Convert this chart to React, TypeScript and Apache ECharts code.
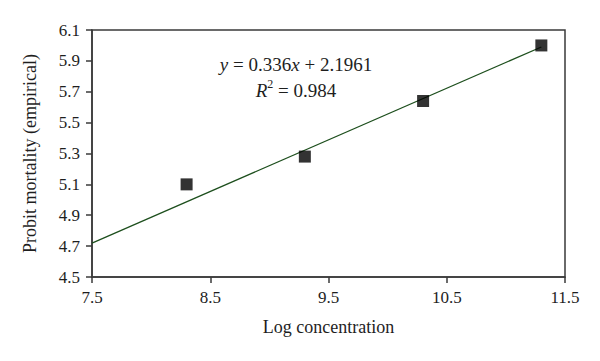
import React, { useEffect, useRef } from "react";
import * as echarts from "echarts";

const logConcentration = [8.3, 9.3, 10.3, 11.3];
const probitMortality = [5.1, 5.28, 5.64, 6.0];
const trendX = [7.5, 11.3];
const trendY = [4.72, 5.99];
const equationText = "{i|y} = 0.336{i|x} + 2.1961";
const r2Text = "{i|R}{s|2} = 0.984";

const FONT = "Liberation Serif";
const TEXT = "#1e1e1e";

export default function App() {
  const ref = useRef<HTMLDivElement>(null);
  useEffect(() => {
    document.body.style.margin = "0";
    if (!ref.current) return;
    const chart = echarts.init(ref.current, undefined, { renderer: "svg" });
    chart.setOption({
      animation: false,
      backgroundColor: "#ffffff",
      textStyle: { fontFamily: FONT },
      grid: {
        left: 92,
        right: 35,
        top: 30,
        bottom: 84,
        show: true,
        borderColor: "#3a3a3a",
        borderWidth: 1.5,
        containLabel: false,
      },
      xAxis: {
        type: "value",
        min: 7.5,
        max: 11.5,
        interval: 1,
        name: "Log concentration",
        nameLocation: "middle",
        nameGap: 41,
        nameTextStyle: { fontFamily: FONT, fontSize: 18, color: TEXT },
        axisLine: { show: true, lineStyle: { color: "#3a3a3a", width: 1.5 } },
        axisTick: { show: true, length: 6, lineStyle: { color: "#3a3a3a", width: 1.5 } },
        axisLabel: {
          fontFamily: FONT,
          fontSize: 17,
          color: TEXT,
          margin: 12,
          formatter: (v: number) => v.toFixed(1),
        },
        splitLine: { show: false },
      },
      yAxis: {
        type: "value",
        min: 4.5,
        max: 6.1,
        interval: 0.2,
        name: "Probit mortality (empirical)",
        nameLocation: "middle",
        nameGap: 53,
        nameTextStyle: { fontFamily: FONT, fontSize: 18, color: TEXT },
        axisLine: { show: true, lineStyle: { color: "#3a3a3a", width: 1.5 } },
        axisTick: { show: true, length: 6, lineStyle: { color: "#3a3a3a", width: 1.5 } },
        axisLabel: {
          fontFamily: FONT,
          fontSize: 17,
          color: TEXT,
          margin: 12,
          formatter: (v: number) => v.toFixed(1),
        },
        splitLine: { show: false },
      },
      series: [
        {
          type: "line",
          data: trendX.map((x, i) => [x, trendY[i]]),
          symbol: "none",
          lineStyle: { color: "#1d4f1d", width: 1.3 },
          z: 2,
        },
        {
          type: "scatter",
          data: logConcentration.map((x, i) => [x, probitMortality[i]]),
          symbol: "rect",
          symbolSize: 12,
          itemStyle: { color: "#000000" },
          z: 3,
        },
      ],
      graphic: [
        {
          type: "text",
          x: 296,
          y: 64,
          style: {
            text: equationText,
            fontFamily: FONT,
            fontSize: 19,
            fill: TEXT,
            align: "center",
            verticalAlign: "middle",
            rich: {
              i: { fontStyle: "italic", fontFamily: FONT, fontSize: 19, fill: TEXT },
            },
          },
        },
        {
          type: "text",
          x: 296,
          y: 90,
          style: {
            text: r2Text,
            fontFamily: FONT,
            fontSize: 19,
            fill: TEXT,
            align: "center",
            verticalAlign: "middle",
            rich: {
              i: { fontStyle: "italic", fontFamily: FONT, fontSize: 19, fill: TEXT },
              s: { fontFamily: FONT, fontSize: 12, fill: TEXT, padding: [0, 0, 12, 0] },
            },
          },
        },
      ],
    });
    return () => chart.dispose();
  }, []);
  return <div ref={ref} style={{ width: 600, height: 361 }} />;
}
